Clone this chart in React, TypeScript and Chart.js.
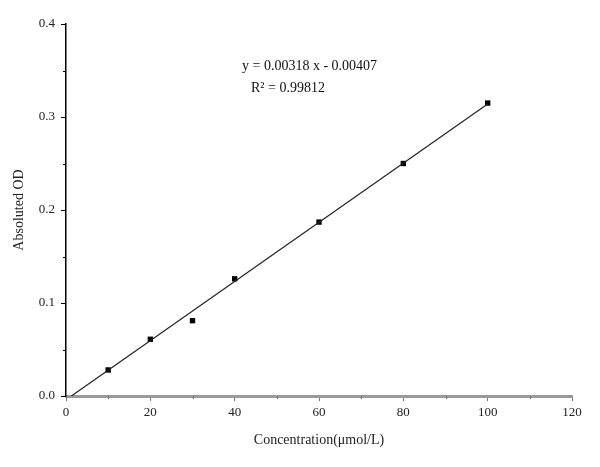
import React, { useEffect, useRef } from "react";
import { Chart, registerables } from "chart.js";

Chart.register(...registerables);

const concentrations = [10, 20, 30, 40, 60, 80, 100];
const absorbance = [0.028, 0.061, 0.081, 0.126, 0.187, 0.250, 0.315];
const slope = 0.00318;
const intercept = -0.00407;
const fitRange = [1.28, 100];
const equationText = "y = 0.00318 x - 0.00407";
const r2Text = "R\u00B2 = 0.99812";
const xTitle = "Concentration(\u03BCmol/L)";
const yTitle = "Absoluted OD";

const FONT = "'Liberation Serif', 'DejaVu Serif', serif";

export default function App() {
  const ref = useRef<HTMLCanvasElement | null>(null);
  useEffect(() => {
    if (!ref.current) return;
    const fitPoints = fitRange.map((x) => ({ x, y: slope * x + intercept }));
    const pts = concentrations.map((x, i) => ({ x, y: absorbance[i] }));

    const minorTicks = {
      id: "minorTicks",
      afterDraw(chart: any) {
        const ctx = chart.ctx;
        const xs = chart.scales.x;
        const ys = chart.scales.y;
        ctx.save();
        ctx.strokeStyle = "#000";
        ctx.lineWidth = 1;
        for (let v = 0.05; v < 0.4; v += 0.1) {
          const py = Math.round(ys.getPixelForValue(v)) + 0.5;
          ctx.beginPath();
          ctx.moveTo(xs.left - 3, py);
          ctx.lineTo(xs.left, py);
          ctx.stroke();
        }
        ctx.strokeStyle = "#777";
        for (let v = 10; v < 120; v += 20) {
          const px = Math.round(xs.getPixelForValue(v)) + 0.5;
          ctx.beginPath();
          ctx.moveTo(px, ys.bottom);
          ctx.lineTo(px, ys.bottom + 3);
          ctx.stroke();
        }
        ctx.fillStyle = "#111";
        ctx.font = `14px ${FONT}`;
        ctx.textBaseline = "middle";
        ctx.fillText(equationText, 242, 66);
        ctx.fillText(r2Text, 251, 88);
        ctx.restore();
      },
    };

    const chart = new Chart(ref.current, {
      type: "scatter",
      data: {
        datasets: [
          {
            data: fitPoints,
            showLine: true,
            borderColor: "#222",
            borderWidth: 1.2,
            pointRadius: 0,
          },
          {
            data: pts,
            pointStyle: "rect",
            pointRadius: 3.8,
            backgroundColor: "#000",
            borderColor: "#000",
            borderWidth: 0,
          },
        ],
      },
      options: {
        animation: false,
        responsive: false,
        events: [],
        layout: { padding: { top: 24, right: 28, left: 0, bottom: 0 } },
        plugins: { legend: { display: false }, tooltip: { enabled: false } },
        scales: {
          x: {
            type: "linear",
            min: 0,
            max: 120,
            ticks: {
              stepSize: 20,
              color: "#222",
              font: { family: FONT, size: 13 },
              padding: 4,
            },
            grid: {
              drawOnChartArea: false,
              tickLength: 5,
              tickColor: "#777",
            },
            border: { color: "#999", width: 3 },
            title: {
              display: true,
              text: xTitle,
              color: "#222",
              font: { family: FONT, size: 14 },
              padding: { top: 0, bottom: 18 },
            },
            afterFit(scale: any) {
              scale.height = 71;
            },
          },
          y: {
            type: "linear",
            min: 0,
            max: 0.4,
            ticks: {
              stepSize: 0.1,
              color: "#222",
              font: { family: FONT, size: 13 },
              padding: 6,
              callback: (v: any) => Number(v).toFixed(1),
            },
            grid: {
              drawOnChartArea: false,
              tickLength: 5,
              tickColor: "#000",
            },
            border: { color: "#000", width: 1.5 },
            title: {
              display: true,
              text: yTitle,
              color: "#222",
              font: { family: FONT, size: 14 },
              padding: { top: 11, bottom: 0 },
            },
            afterFit(scale: any) {
              scale.width = 66;
            },
          },
        },
      },
      plugins: [minorTicks],
    });
    return () => chart.destroy();
  }, []);

  return (
    <div style={{ position: "fixed", left: 0, top: 0, width: 600, height: 467, background: "#fff" }}>
      <canvas ref={ref} width={600} height={467} style={{ width: 600, height: 467 }} />
    </div>
  );
}
